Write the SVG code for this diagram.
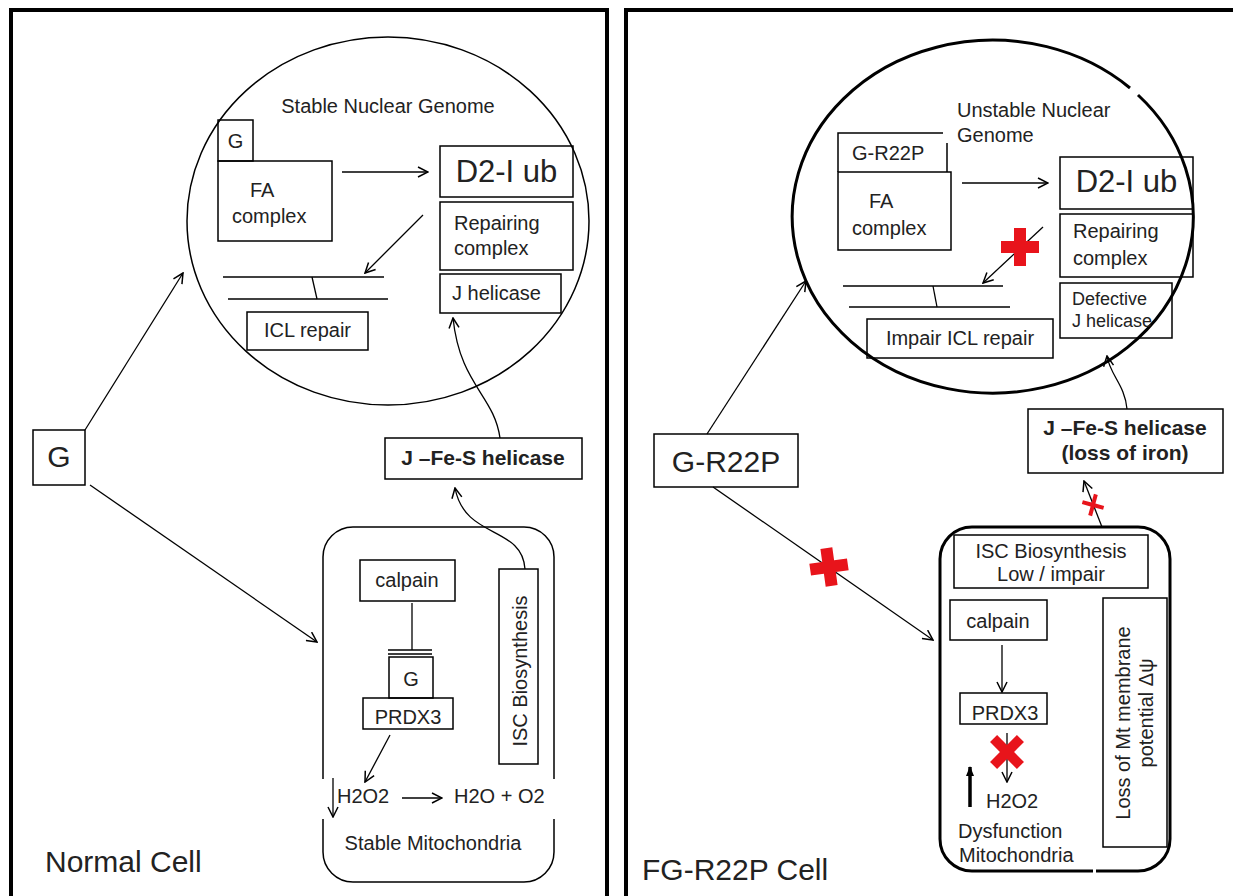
<svg xmlns="http://www.w3.org/2000/svg" width="1233" height="896" viewBox="0 0 1233 896">
<defs>
<style>
.t{font-family:"Liberation Sans",Arial,sans-serif;font-size:20px;fill:#222}
.b{font-weight:bold}
.c{text-anchor:middle}
.box{fill:none;stroke:#000;stroke-width:1.5}
.thick{fill:none;stroke:#000;stroke-width:3}
.ln{fill:none;stroke:#000;stroke-width:1.3}
.arr{fill:none;stroke:#000;stroke-width:1.3;marker-end:url(#ah)}
.red{fill:#e8141b}
</style>
<marker id="ah" viewBox="0 0 12 12" refX="11" refY="6" markerWidth="12" markerHeight="12" markerUnits="userSpaceOnUse" orient="auto"><path d="M1,1 L11,6 L1,11" fill="none" stroke="#000" stroke-width="1.5"/></marker>
<marker id="ahf" viewBox="0 0 10 10" refX="9" refY="5" markerWidth="10" markerHeight="10" markerUnits="userSpaceOnUse" orient="auto"><path d="M0,1 L10,5 L0,9 Z" fill="#000"/></marker>
</defs>
<rect width="1233" height="896" fill="#fff"/>

<g id="panels">
<rect x="11" y="10" width="596" height="930" fill="none" stroke="#000" stroke-width="4"/>
<rect x="626" y="10" width="650" height="930" fill="none" stroke="#000" stroke-width="4"/>
</g>

<!-- LEFT PANEL -->
<g id="left-nucleus">
<ellipse cx="388" cy="221" rx="201" ry="184" class="box"/>
<text class="t c" x="388" y="113">Stable Nuclear Genome</text>
</g>
<g id="left-G-small"><rect x="218" y="120" width="35" height="41" class="box"/><text class="t c" x="235.5" y="148">G</text></g>
<g id="left-FA"><rect x="218" y="161" width="114" height="80" class="box"/><text class="t" x="250" y="197">FA</text><text class="t" x="232" y="223">complex</text></g>
<g id="left-D2"><rect x="440" y="146" width="133" height="51" class="box"/><text class="t c" x="506.5" y="182" style="font-size:31px">D2-I ub</text></g>
<g id="left-repairing"><rect x="440" y="202" width="133" height="68" class="box"/><text class="t" x="454" y="230">Repairing</text><text class="t" x="454" y="255">complex</text></g>
<g id="left-Jhelicase"><rect x="440" y="274" width="121" height="39" class="box"/><text class="t" x="452" y="300">J helicase</text></g>
<g id="left-dna"><line x1="223" y1="277" x2="384" y2="277" class="ln"/><line x1="228" y1="299" x2="388" y2="299" class="ln"/><line x1="312" y1="277" x2="317" y2="299" class="ln"/></g>
<g id="left-ICL"><rect x="247" y="312" width="121" height="38" class="box"/><text class="t c" x="307.5" y="337">ICL repair</text></g>
<g id="left-G"><rect x="33" y="430" width="52" height="55" class="box"/><text class="t c" x="59" y="467" style="font-size:30px">G</text></g>
<g id="left-JFeS"><rect x="385" y="438" width="197" height="41" class="box"/><text class="t b c" x="483" y="465" style="font-size:21px">J –Fe-S helicase</text></g>
<g id="left-mito">
<rect x="323" y="527" width="231" height="355" rx="30" class="box"/>
<rect x="318" y="779" width="10" height="40" fill="#fff"/>
<rect x="549" y="779" width="10" height="40" fill="#fff"/>
<text class="t c" x="433" y="850">Stable Mitochondria</text>
</g>
<g id="left-calpain"><rect x="360" y="560" width="95" height="41" class="box"/><text class="t c" x="407" y="587">calpain</text></g>
<g id="left-G-mito"><rect x="389" y="657" width="44" height="41" class="box"/><text class="t c" x="411" y="686">G</text></g>
<g id="left-PRDX3"><rect x="363" y="698" width="90" height="31" class="box"/><text class="t c" x="408" y="724">PRDX3</text></g>
<g id="left-ISC"><rect x="499" y="569" width="39" height="195" class="box"/><text class="t c" transform="translate(527,671) rotate(-90)">ISC Biosynthesis</text></g>
<g id="left-H2O2"><text class="t" x="337" y="803">H2O2</text><text class="t" x="454" y="803">H2O + O2</text></g>
<g id="left-label"><text class="t" x="45" y="872" style="font-size:30px">Normal Cell</text></g>

<!-- RIGHT PANEL -->
<g id="right-nucleus">
<path d="M1138,95 A200.5,176.5 0 1 1 1130,88" class="thick"/>
<text class="t" x="957" y="117">Unstable Nuclear</text>
<text class="t" x="957" y="142">Genome</text>
</g>
<g id="right-GR22P-small"><path d="M838,172 L838,133 L943,133 M947,143 L947,172" class="box"/><text class="t" x="852" y="160">G-R22P</text></g>
<g id="right-FA"><rect x="838" y="172" width="113" height="78" class="box"/><text class="t" x="869" y="208">FA</text><text class="t" x="852" y="235">complex</text></g>
<g id="right-D2"><rect x="1060" y="157" width="133" height="52" class="box"/><text class="t c" x="1126.5" y="192" style="font-size:31px">D2-I ub</text></g>
<g id="right-repairing"><rect x="1060" y="214" width="133" height="63" class="box"/><text class="t" x="1073" y="238">Repairing</text><text class="t" x="1073" y="265">complex</text></g>
<g id="right-defective"><rect x="1060" y="283" width="112" height="55" class="box"/><text class="t" x="1072" y="305" style="font-size:18px">Defective</text><text class="t" x="1072" y="327" style="font-size:18px">J helicase</text></g>
<g id="right-dna"><line x1="843" y1="286" x2="1003" y2="286" class="ln"/><line x1="849" y1="307" x2="1010" y2="307" class="ln"/><line x1="933" y1="286" x2="937" y2="307" class="ln"/></g>
<g id="right-ICL"><rect x="867" y="319" width="186" height="39" class="box"/><text class="t c" x="960" y="345">Impair ICL repair</text></g>
<g id="right-GR22P"><rect x="654" y="434" width="144" height="53" class="box"/><text class="t c" x="726" y="472" style="font-size:30px">G-R22P</text></g>
<g id="right-JFeS"><rect x="1028" y="409" width="195" height="64" class="box"/><text class="t b c" x="1125" y="435" style="font-size:21px">J –Fe-S helicase</text><text class="t b c" x="1125" y="460" style="font-size:21px">(loss of iron)</text></g>
<g id="right-mito">
<rect x="940" y="527" width="230" height="344" rx="32" class="thick"/>
<rect x="1093" y="866" width="3" height="10" fill="#fff"/>
<text class="t" x="958" y="838">Dysfunction</text>
<text class="t" x="959" y="862">Mitochondria</text>
</g>
<g id="right-ISC"><rect x="954" y="535" width="194" height="53" class="box"/><text class="t c" x="1051" y="558">ISC Biosynthesis</text><text class="t c" x="1051" y="581">Low / impair</text></g>
<g id="right-calpain"><rect x="950" y="600" width="97" height="40" class="box"/><text class="t c" x="998" y="628">calpain</text></g>
<g id="right-PRDX3"><rect x="960" y="693" width="87" height="31" class="box"/><text class="t c" x="1005" y="720">PRDX3</text></g>
<g id="right-H2O2"><text class="t" x="986" y="808">H2O2</text></g>
<g id="right-loss"><rect x="1103" y="598" width="64" height="249" class="box"/><text class="t c" transform="translate(1130,723) rotate(-90)">Loss of Mt membrane</text><text class="t c" transform="translate(1153,713) rotate(-90)">potential Δψ</text></g>
<g id="right-label"><text class="t" x="642" y="880" style="font-size:30px">FG-R22P Cell</text></g>

<g id="connectors">
<path d="M342,172 L428,172" class="arr"/>
<path d="M423,215 L365,273" class="arr"/>
<path d="M85,430 L183,273" class="arr"/>
<path d="M90,485 L317,642" class="arr"/>
<path d="M500,438 C494,395 460,385 453,318" class="arr"/>
<path d="M525,569 C522,525 465,540 455,488" class="arr"/>
<path d="M412,603 L412,650" class="ln"/>
<path d="M388,650 L432,650 M388,654 L432,654" class="ln"/>
<path d="M390,735 L365,782" class="arr"/>
<path d="M333,778 L333,817" class="arr"/>
<path d="M402,798 L442,798" class="arr"/>

<path d="M962,183 L1048,183" class="arr"/>
<path d="M1043,227 L983,283" class="arr"/>
<path d="M707,434 L806,281" class="arr"/>
<path d="M713,487 L933,640" class="arr"/>
<path d="M1127,409 C1125,385 1110,375 1107,356" class="arr"/>
<path d="M1102,527 L1084,481" class="arr"/>
<path d="M1002,645 L1002,692" class="arr"/>
<path d="M1007,733 L1007,782" class="arr"/>
<path d="M970,807 L970,767" stroke="#000" stroke-width="3.5" fill="none" marker-end="url(#ahf)"/>
</g>

<g id="blocks">
<path class="red" transform="translate(1020,247)" d="M-6,-19 H6 V-6 H19 V6 H6 V19 H-6 V6 H-19 V-6 H-6 Z"/>
<path class="red" transform="translate(829,567) rotate(-8)" d="M-6,-19 H6 V-6 H19 V6 H6 V19 H-6 V6 H-19 V-6 H-6 Z"/>
<path class="red" transform="translate(1093,505) rotate(15)" d="M-2,-11 H2 V-2 H11 V2 H2 V11 H-2 V2 H-11 V-2 H-2 Z"/>
<path class="red" transform="translate(1007,752) rotate(45)" d="M-5,-19 H5 V-5 H19 V5 H5 V19 H-5 V5 H-19 V-5 H-5 Z"/>
</g>
</svg>
